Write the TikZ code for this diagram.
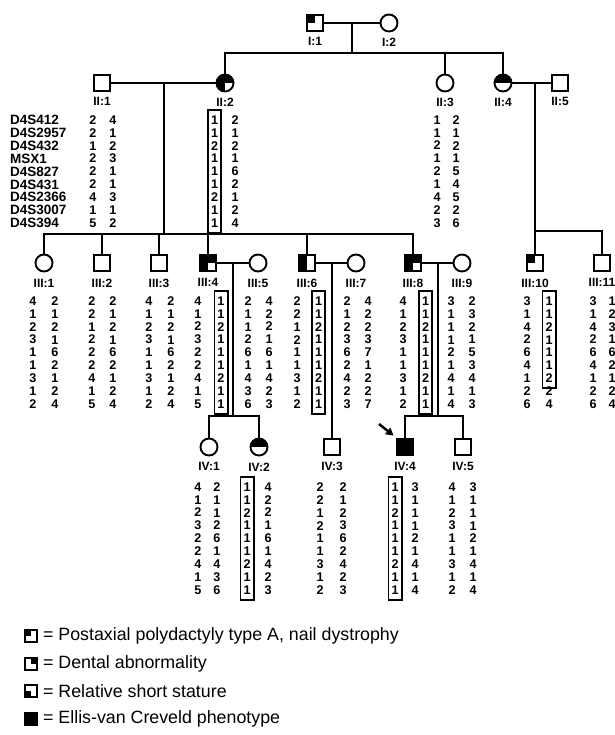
\documentclass[tikz,border=0pt]{standalone}
\usepackage{fontspec}
\setmainfont{Liberation Sans}
\usetikzlibrary{positioning, arrows.meta, calc}

\begin{document}
\begin{tikzpicture}[x=1pt, y=-1pt]
\tikzset{
    every node/.style={inner sep=0pt},
    male/.style={draw, rectangle, minimum size=16pt, line width=1.9pt},
    female/.style={draw, circle, minimum size=17pt, line width=1.9pt},
    polyq/.style={path picture={\fill (path picture bounding box.north west) rectangle (path picture bounding box.center);}},
    dentq/.style={path picture={\fill (path picture bounding box.north east) rectangle (path picture bounding box.center);}},
    statq/.style={path picture={\fill (path picture bounding box.south west) rectangle (path picture bounding box.center);}},
    tophalf/.style={path picture={\fill (path picture bounding box.north west) rectangle (path picture bounding box.east);}},
    lefthalf/.style={path picture={\fill (path picture bounding box.north west) rectangle (path picture bounding box.south);}},
    threeq/.style={path picture={\fill (path picture bounding box.north west) rectangle (path picture bounding box.east);
        \fill (path picture bounding box.north west) rectangle (path picture bounding box.south);}},
    evc/.style={fill=black},
    keysym/.style={minimum size=12pt, line width=1.9pt},
    lbl/.style={font=\bfseries\fontsize{12}{13}\selectfont},
    allele/.style={font=\bfseries\fontsize{12.6}{12.9}\selectfont, align=center},
    marker/.style={font=\bfseries\fontsize{13.5}{12.9}\selectfont, align=left, anchor=west},
    boxed/.style={allele, draw, line width=1.6pt, inner xsep=3.2pt, inner ysep=5.5pt},
    kin/.style={line width=2pt},
    legtext/.style={font=\fontsize{17.8}{20}\selectfont, anchor=west}
}
\useasboundingbox (0,0) rectangle (614,735);

\node[male, polyq] (I1) at (315,23) {};
\node[female] (I2) at (389,23) {};
\node[lbl, below=5pt of I1] {I:1};
\node[lbl, below=5pt of I2] {I:2};

\node[male] (II1) at (102,83) {};
\node[female, threeq] (II2) at (225,83) {};
\node[female] (II3) at (445,83) {};
\node[female, tophalf] (II4) at (503,83) {};
\node[male] (II5) at (560,83) {};
\node[lbl, below=5.5pt of II1] {II:1};
\node[lbl, below=5.5pt of II2] {II:2};
\node[lbl, below=5.5pt of II3] {II:3};
\node[lbl, below=5.5pt of II4] {II:4};
\node[lbl, below=5.5pt of II5] {II:5};

\node[female] (III1) at (44,263) {};
\node[male] (III2) at (102,263) {};
\node[male] (III3) at (159,263) {};
\node[male, threeq] (III4) at (208,263) {};
\node[female] (III5) at (258,263) {};
\node[male, lefthalf] (III6) at (307,263) {};
\node[female] (III7) at (356,263) {};
\node[male, threeq] (III8) at (413,263) {};
\node[female] (III9) at (462,263) {};
\node[male, polyq] (III10) at (535,263) {};
\node[male] (III11) at (602,263) {};
\node[lbl, below=6.5pt of III1] {III:1};
\node[lbl, below=6.5pt of III2] {III:2};
\node[lbl, below=6.5pt of III3] {III:3};
\node[lbl, below=6.5pt of III4] {III:4};
\node[lbl, below=6.5pt of III5] {III:5};
\node[lbl, below=6.5pt of III6] {III:6};
\node[lbl, below=6.5pt of III7] {III:7};
\node[lbl, below=6.5pt of III8] {III:8};
\node[lbl, below=6.5pt of III9] {III:9};
\node[lbl, below=6.5pt of III10] {III:10};
\node[lbl, below=6.5pt of III11] {III:11};

\node[female] (IV1) at (209,447) {};
\node[female, tophalf] (IV2) at (259,447) {};
\node[male] (IV3) at (332,447) {};
\node[male, evc] (IV4) at (405,447) {};
\node[male] (IV5) at (463,447) {};
\node[lbl, below=6pt of IV1] {IV:1};
\node[lbl, below=6pt of IV2] {IV:2};
\node[lbl, below=6pt of IV3] {IV:3};
\node[lbl, below=6pt of IV4] {IV:4};
\node[lbl, below=6pt of IV5] {IV:5};

\coordinate (mI) at ($(I1)!0.5!(I2)$);
\coordinate (sI) at ($(mI)+(0,30)$);
\draw[kin] (I1) -- (I2);
\draw[kin] (mI) -- (sI);
\draw[kin] (II2.north) |- (sI) -| (II4.north);
\draw[kin] (II3.north) -- (II3.north |- sI);

\coordinate (mII) at (164,83);
\coordinate (sII) at (164,234);
\draw[kin] (II1) -- (II2);
\draw[kin] (mII) -- (sII);
\draw[kin] (III1.north) |- (sII) -| (III8.north);
\draw[kin] (III2.north) -- (III2.north |- sII);
\draw[kin] (III3.north) -- (III3.north |- sII);
\draw[kin] (III4.north) -- (III4.north |- sII);
\draw[kin] (III6.north) -- (III6.north |- sII);

\coordinate (mIIb) at (535,83);
\coordinate (sIIb) at (535,231);
\draw[kin] (II4) -- (II5);
\draw[kin] (mIIb) -- (III10.north);
\draw[kin] (sIIb) -| (III11.north);

\coordinate (mIIIa) at (233,263);
\coordinate (sIIIa) at (233,416);
\draw[kin] (III4) -- (III5);
\draw[kin] (mIIIa) -- (sIIIa);
\draw[kin] (IV1.north) |- (sIIIa) -| (IV2.north);

\coordinate (mIIIb) at (332,263);
\draw[kin] (III6) -- (III7);
\draw[kin] (mIIIb) -- (IV3.north);

\coordinate (mIIIc) at (438,263);
\coordinate (sIIIc) at (438,416);
\draw[kin] (III8) -- (III9);
\draw[kin] (mIIIc) -- (sIIIc);
\draw[kin] (IV4.north) |- (sIIIc) -| (IV5.north);

\coordinate (prob) at (379,424);
\draw[kin, line width=2.5pt, -{Triangle[length=7.5pt, width=8pt]}] (prob) -- ($(IV4.north west)+(-2.5,-2.5)$);

\node[marker] (mk) at (10,171.5) {D4S412\\D4S2957\\D4S432\\MSX1\\D4S827\\D4S431\\D4S2366\\D4S3007\\D4S394};
\node[allele] (II1a) at (93,171.5) {2\\2\\1\\2\\2\\2\\4\\1\\5};
\node[allele] (II1b) at (113,171.5) {4\\1\\2\\3\\1\\1\\3\\1\\2};
\node[boxed] (II2a) at (214.5,171.5) {1\\1\\2\\1\\1\\1\\2\\1\\1};
\node[allele] (II2b) at (235,171.5) {2\\1\\2\\1\\6\\2\\1\\2\\4};
\node[allele] (II3a) at (437,171.5) {1\\1\\2\\1\\2\\1\\4\\2\\3};
\node[allele] (II3b) at (456,171.5) {2\\1\\2\\1\\5\\4\\5\\2\\6};

\node[allele] (III1a) at (33,352.5) {4\\1\\2\\3\\1\\1\\3\\1\\2};
\node[allele] (III1b) at (55,352.5) {2\\1\\2\\1\\6\\2\\1\\2\\4};
\node[allele] (III2a) at (92,352.5) {2\\2\\1\\2\\2\\2\\4\\1\\5};
\node[allele] (III2b) at (113,352.5) {2\\1\\2\\1\\6\\2\\1\\2\\4};
\node[allele] (III3a) at (149,352.5) {4\\1\\2\\3\\1\\1\\3\\1\\2};
\node[allele] (III3b) at (171,352.5) {2\\1\\2\\1\\6\\2\\1\\2\\4};
\node[allele] (III4a) at (198,352.5) {4\\1\\2\\3\\2\\2\\4\\1\\5};
\node[boxed] (III4b) at (221,352.5) {1\\1\\2\\1\\1\\1\\2\\1\\1};
\node[allele] (III5a) at (248,352.5) {2\\1\\1\\2\\6\\1\\4\\3\\6};
\node[allele] (III5b) at (269,352.5) {4\\2\\2\\1\\6\\1\\4\\2\\3};
\node[allele] (III6a) at (297,352.5) {2\\2\\1\\2\\1\\1\\3\\1\\2};
\node[boxed] (III6b) at (318.5,352.5) {1\\1\\2\\1\\1\\1\\2\\1\\1};
\node[allele] (III7a) at (347,352.5) {2\\1\\2\\3\\6\\2\\4\\2\\3};
\node[allele] (III7b) at (368,352.5) {4\\2\\2\\3\\7\\1\\2\\2\\7};
\node[allele] (III8a) at (403,352.5) {4\\1\\2\\3\\1\\1\\3\\1\\2};
\node[boxed] (III8b) at (425.5,352.5) {1\\1\\2\\1\\1\\1\\2\\1\\1};
\node[allele] (III9a) at (451,352.5) {3\\1\\1\\1\\2\\1\\4\\1\\4};
\node[allele] (III9b) at (472,352.5) {2\\3\\2\\1\\5\\3\\4\\1\\3};
\node[allele] (III10a) at (527,352.5) {3\\1\\4\\2\\6\\4\\1\\2\\6};
\node[boxed] (III10b) at (549,339.7) {1\\1\\2\\1\\1\\1\\2};
\node[allele] (III10c) at (549,397.7) {2\\4};
\node[allele] (III11a) at (593,352.5) {3\\1\\4\\2\\6\\4\\1\\2\\6};
\node[allele] (III11b) at (612,352.5) {1\\2\\3\\1\\6\\2\\1\\2\\4};

\node[allele] (IV1a) at (198,538.5) {4\\1\\2\\3\\2\\2\\4\\1\\5};
\node[allele] (IV1b) at (217,538.5) {2\\1\\1\\2\\6\\1\\4\\3\\6};
\node[boxed] (IV2a) at (247,538.5) {1\\1\\2\\1\\1\\1\\2\\1\\1};
\node[allele] (IV2b) at (268,538.5) {4\\2\\2\\1\\6\\1\\4\\2\\3};
\node[allele] (IV3a) at (320,538.5) {2\\2\\1\\2\\1\\1\\3\\1\\2};
\node[allele] (IV3b) at (343,538.5) {2\\1\\2\\3\\6\\2\\4\\2\\3};
\node[boxed] (IV4a) at (395,538.5) {1\\1\\2\\1\\1\\1\\2\\1\\1};
\node[allele] (IV4b) at (415,538.5) {3\\1\\1\\1\\2\\1\\4\\1\\4};
\node[allele] (IV5a) at (452,538.5) {4\\1\\2\\3\\1\\1\\3\\1\\2};
\node[allele] (IV5b) at (473,538.5) {3\\1\\1\\1\\2\\1\\4\\1\\4};

\node[male, polyq, keysym] (k1) at (31,636) {};
\node[male, dentq, keysym] (k2) at (31,664) {};
\node[male, statq, keysym] (k3) at (31,691) {};
\node[male, evc, keysym] (k4) at (31,719) {};
\node[legtext, right=5pt of k1] {= Postaxial polydactyly type A, nail dystrophy};
\node[legtext, right=5pt of k2] {= Dental abnormality};
\node[legtext, right=5pt of k3] {= Relative short stature};
\node[legtext, right=5pt of k4] {= Ellis-van Creveld phenotype};
\end{tikzpicture}
\end{document}
